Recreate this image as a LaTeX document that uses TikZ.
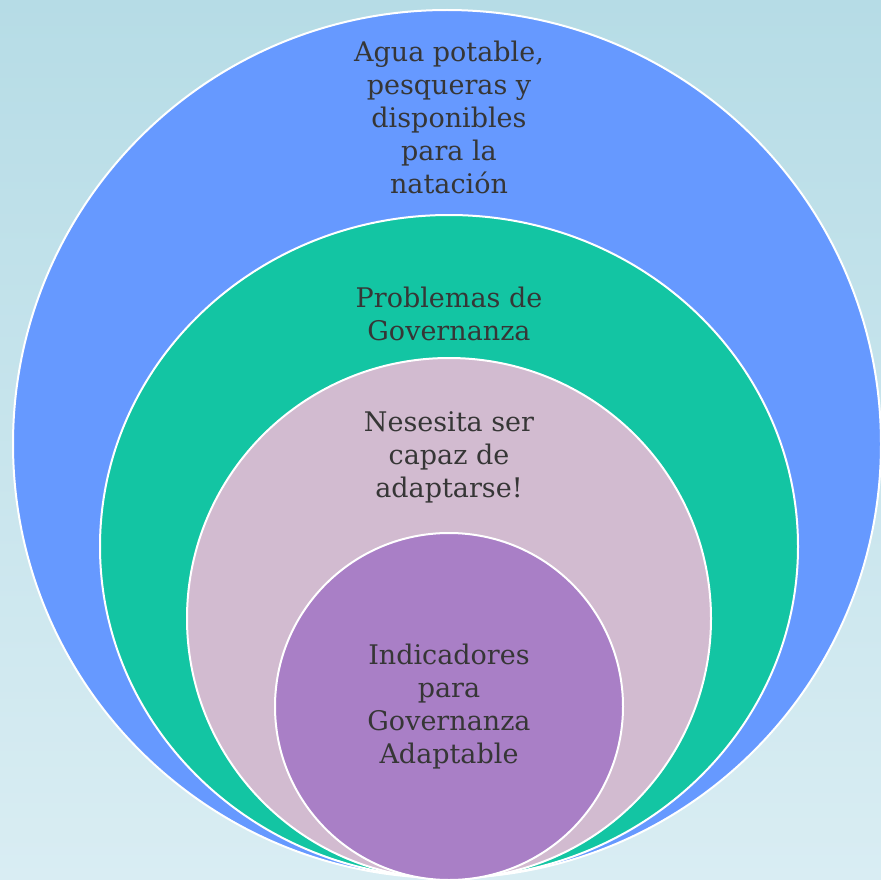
\documentclass[tikz,border=0pt]{standalone}
\usepackage{fontspec}
\setmainfont{DejaVu Serif}
\definecolor{bgtop}{HTML}{B6DCE6}
\definecolor{bgbot}{HTML}{D9EDF3}
\definecolor{cblue}{HTML}{6699FF}
\definecolor{cgreen}{HTML}{13C5A3}
\definecolor{cpink}{HTML}{D2BBD0}
\definecolor{cpurple}{HTML}{A97FC6}
\definecolor{ctext}{HTML}{363636}
\tikzset{
  ring/.style={draw=white, line width=2pt},
  lbl/.style={align=center, text=ctext, font=\fontsize{27}{33}\selectfont, inner sep=0pt}
}
\begin{document}
\begin{tikzpicture}[x=1pt,y=-1pt]
\useasboundingbox (0,0) rectangle (881,880);
\shade[top color=bgtop, bottom color=bgbot] (0,0) rectangle (881,880);
\begin{scope}
\clip (0,0) rectangle (881,880);
\path[ring, fill=cblue] (447,444) ellipse [x radius=434, y radius=434];
\path[ring, fill=cgreen] (449,546.5) ellipse [x radius=349, y radius=331.5];
\path[ring, fill=cpink] (449,618.5) ellipse [x radius=262, y radius=260.5];
\path[ring, fill=cpurple] (449,706.5) ellipse [x radius=174, y radius=173.5];
\end{scope}
\node[lbl] (t1) at (449,117) {Agua potable,\\pesqueras y\\disponibles\\para la\\natación};
\node[lbl] (t2) at (449,314) {Problemas de\\Governanza};
\node[lbl] (t3) at (449,457) {Nesesita ser\\capaz de\\adaptarse!};
\node[lbl] (t4) at (449,707) {Indicadores\\para\\Governanza\\Adaptable};
\end{tikzpicture}
\end{document}
